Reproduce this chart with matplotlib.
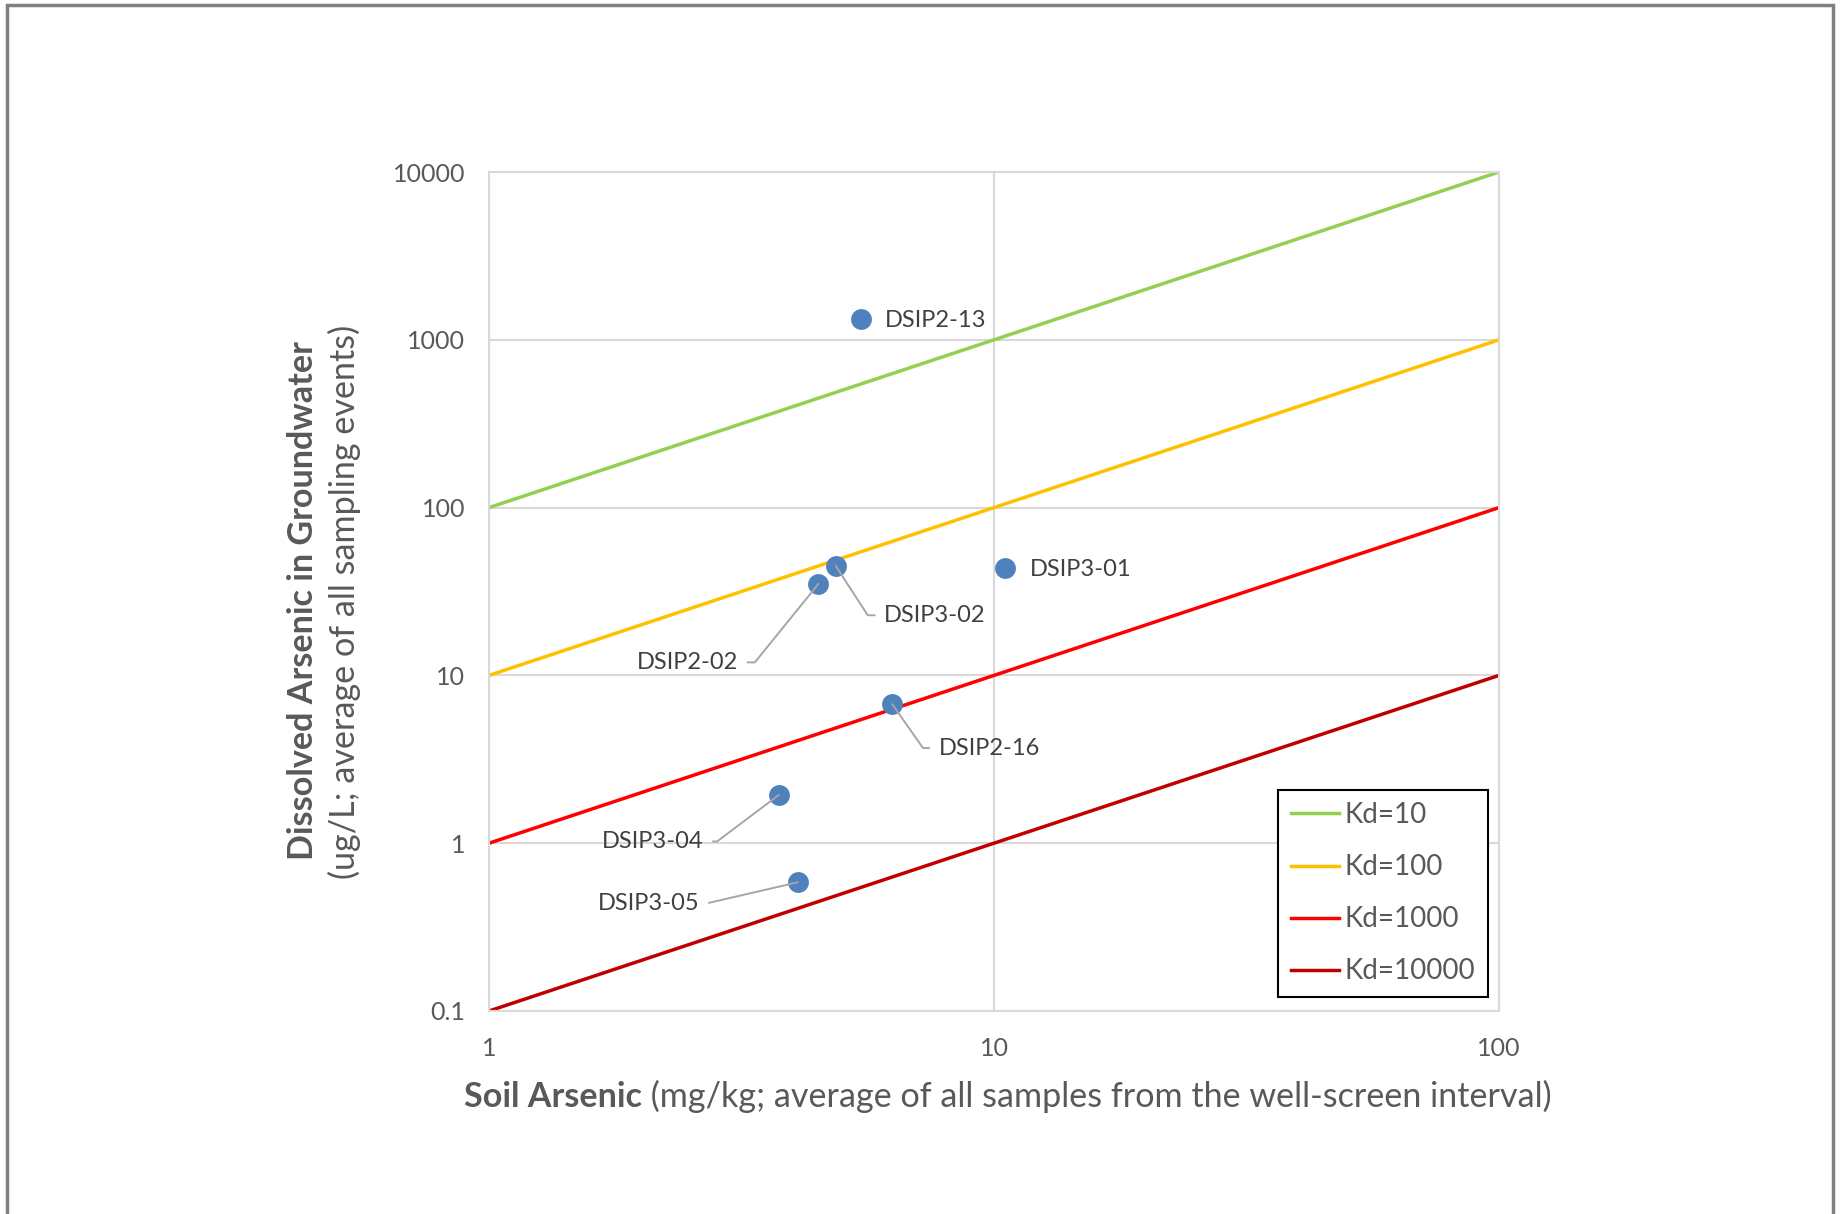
import matplotlib
matplotlib.use("Agg")
import matplotlib.pyplot as plt
from matplotlib.patches import Rectangle

plt.rcParams.update({"font.family": ["Lato", "DejaVu Sans"]})

# Kd reference lines, read at the plot edges (x = 1 and x = 100)
line_x = [1, 100]
kd_labels = ["Kd=10", "Kd=100", "Kd=1000", "Kd=10000"]
kd_y = [[100, 10000], [10, 1000], [1, 100], [0.1, 10]]
kd_colors = ["#92d050", "#ffc000", "#ff0000", "#c00000"]

# wells: soil As (mg/kg) vs dissolved As (ug/L)
wells = ["DSIP2-13", "DSIP3-02", "DSIP2-02", "DSIP3-01", "DSIP2-16", "DSIP3-04", "DSIP3-05"]
soil_as = [5.45, 4.86, 4.49, 10.5, 6.29, 3.75, 4.09]
water_as = [1330, 44.9, 35.1, 43.9, 6.73, 1.94, 0.585]

xticks = [1, 10, 100]
xticklabels = ["1", "10", "100"]
yticks = [0.1, 1, 10, 100, 1000, 10000]
yticklabels = ["0.1", "1", "10", "100", "1000", "10000"]

# data label placement (offset in pt, leader angle in deg, None = no leader)
lab_dx = [17, 35, -58, 18, 33.5, -54.5, -71]
lab_dy = [-1, -35.5, -56.5, -1.5, -31.5, -33.5, -15.5]
lead_ang = [None, -57, 51, None, -55, 37, 13]

GREY_TXT = "#595959"
W, H = 1843, 1214
fig = plt.figure(figsize=(W / 100, H / 100), dpi=100)
ax = fig.add_axes([489 / W, 1 - 1011 / H, 1010 / W, 839 / H])
ax.set_xscale("log")
ax.set_yscale("log")
ax.set_xlim(1, 100)
ax.set_ylim(0.1, 10000)
ax.set_xticks(xticks, xticklabels)
ax.set_yticks(yticks, yticklabels)
ax.minorticks_off()
ax.tick_params(length=0, pad=17, labelsize=18, labelcolor=GREY_TXT)
ax.tick_params(axis="x", pad=18.5)
ax.grid(True, color="#d9d9d9", lw=1.5, zorder=0)
ax.set_axisbelow(True)
for s in ax.spines.values():
    s.set_color("#d9d9d9")
    s.set_linewidth(1.5)

for ys, c, lab in zip(kd_y, kd_colors, kd_labels):
    ax.plot(line_x, ys, color=c, lw=2.5, label=lab, zorder=2)

ax.scatter(soil_as, water_as, s=15 ** 2, color="#4f81bd", lw=0, zorder=4)

for name, x, y, dx, dy, ang in zip(wells, soil_as, water_as, lab_dx, lab_dy, lead_ang):
    ha = "left" if dx > 0 else "right"
    ap = None
    if ang is not None:
        ap = dict(arrowstyle="-", color="#a6a6a6", lw=1.4, shrinkA=5, shrinkB=0,
                  relpos=(0 if dx > 0 else 1, 0.5),
                  connectionstyle="angle,angleA=0,angleB=%g,rad=0" % ang)
    ax.annotate(name, (x, y), xytext=(dx, dy), textcoords="offset points",
                ha=ha, va="center", fontsize=17, color="#404040",
                arrowprops=ap, zorder=5)

leg = ax.legend(loc="lower right", bbox_to_anchor=(0.989, 0.0167), borderaxespad=0,
                fancybox=False, edgecolor="black", framealpha=1, fontsize=20,
                handlelength=1.75, handletextpad=0.2, labelspacing=0.94, borderpad=0.45)
leg.get_frame().set_linewidth(1.5)
for t in leg.get_texts():
    t.set_color(GREY_TXT)

# axis titles
fig.text(303 / W, 1 - 601 / H, "Dissolved Arsenic in Groundwater", rotation=90,
         ha="center", va="center", fontsize=24.6, fontweight="bold", color=GREY_TXT)
fig.text(344 / W, 1 - 602 / H, "(ug/L; average of all sampling events)", rotation=90,
         ha="center", va="center", fontsize=24.6, color=GREY_TXT)
t1 = fig.text(464 / W, 1 - 1097 / H, "Soil Arsenic", ha="left", va="center",
              fontsize=24.6, fontweight="bold", color=GREY_TXT)
ax.annotate(" (mg/kg; average of all samples from the well-screen interval)",
            xy=(1, 0), xycoords=t1, ha="left", va="bottom", fontsize=24.6,
            color=GREY_TXT, annotation_clip=False)

# chart area border (bottom edge runs off the image)
fig.patches.append(Rectangle((7 / W, -0.01), (1833 - 7) / W, (1214 - 5) / H + 0.01,
                             transform=fig.transFigure, fill=False,
                             ec="#808080", lw=2.5))

fig.savefig("out.png", dpi=100)
